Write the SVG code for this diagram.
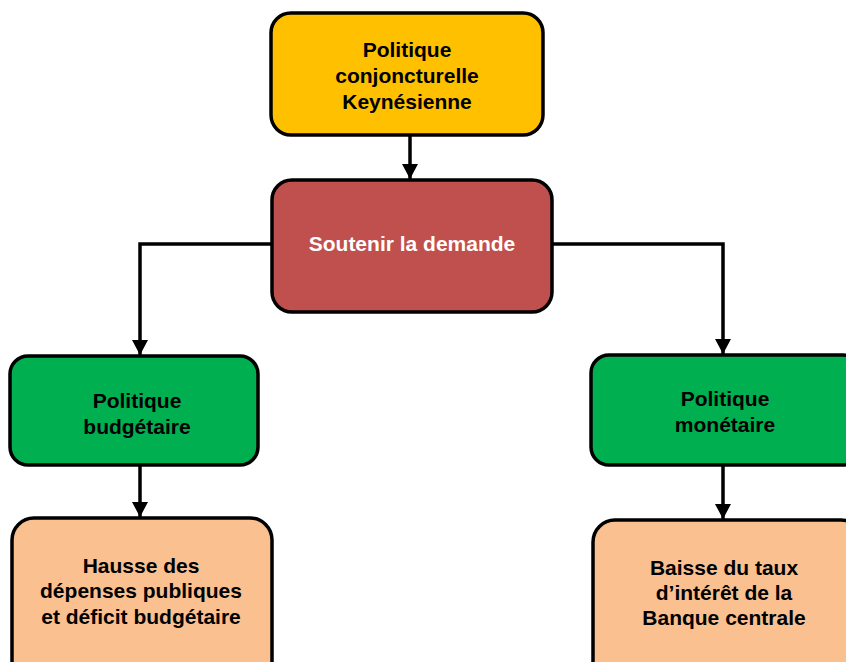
<svg xmlns="http://www.w3.org/2000/svg" width="846" height="662" viewBox="0 0 846 662">
<defs>
<marker id="ah" markerWidth="15" markerHeight="16" refX="15" refY="8" orient="auto" markerUnits="userSpaceOnUse" viewBox="0 0 15 16">
<path d="M0,0 L15,8 L0,16 z" fill="#000"/>
</marker>
<style>
.box{stroke:#000;stroke-width:3.5}
.t{font-family:"Liberation Sans",Arial,sans-serif;font-weight:bold;font-size:21px;text-anchor:middle;fill:#000}
.w{fill:#fff}
.c{fill:none;stroke:#000;stroke-width:3.5}
</style>
</defs>
<rect width="846" height="662" fill="#fff"/>
<g id="connectors">
<path class="c" d="M410,136 V179" marker-end="url(#ah)"/>
<path class="c" d="M272,244 H140 V355" marker-end="url(#ah)"/>
<path class="c" d="M552,244 H723 V354" marker-end="url(#ah)"/>
<path class="c" d="M140,465 V517" marker-end="url(#ah)"/>
<path class="c" d="M723,465 V519" marker-end="url(#ah)"/>
</g>
<g id="n1">
<rect class="box" x="271" y="13" width="272" height="122" rx="20" fill="#FFC000"/>
<text class="t" x="407" y="57">Politique</text>
<text class="t" x="407" y="83">conjoncturelle</text>
<text class="t" x="407" y="109">Keynésienne</text>
</g>
<g id="n2">
<rect class="box" x="272" y="180" width="280" height="132" rx="20" fill="#C0504D"/>
<text class="t w" x="412" y="251">Soutenir la demande</text>
</g>
<g id="n3">
<rect class="box" x="10" y="356" width="248" height="109" rx="18" fill="#00B050"/>
<text class="t" x="137" y="408">Politique</text>
<text class="t" x="137" y="434">budgétaire</text>
</g>
<g id="n4">
<rect class="box" x="591" y="355" width="270" height="110" rx="18" fill="#00B050"/>
<text class="t" x="725" y="406">Politique</text>
<text class="t" x="725" y="432">monétaire</text>
</g>
<g id="n5">
<rect class="box" x="12" y="518" width="260" height="170" rx="22" fill="#FAC090"/>
<text class="t" x="141" y="573">Hausse des</text>
<text class="t" x="141" y="598">dépenses publiques</text>
<text class="t" x="141" y="624">et déficit budgétaire</text>
</g>
<g id="n6">
<rect class="box" x="593" y="520" width="270" height="170" rx="22" fill="#FAC090"/>
<text class="t" x="724" y="575">Baisse du taux</text>
<text class="t" x="724" y="600">d’intérêt de la</text>
<text class="t" x="724" y="625">Banque centrale</text>
</g>
</svg>
